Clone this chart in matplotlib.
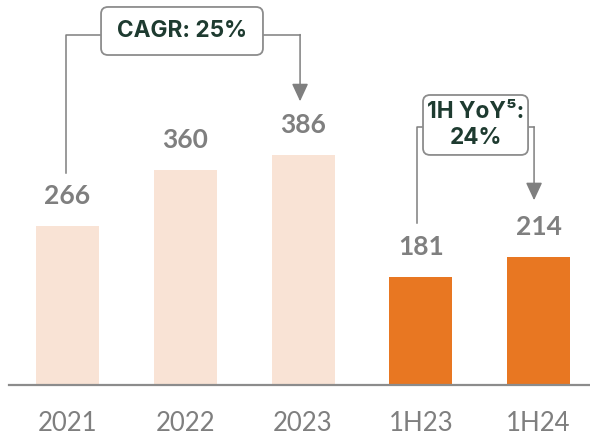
import numpy as np
import matplotlib
matplotlib.use('Agg')
import matplotlib.pyplot as plt
from matplotlib.patches import FancyBboxPatch

# Datos
categorias = ['2021', '2022', '2023', '1H23', '1H24']
valores = [266, 360, 386, 181, 214]
colores = ['#F9E3D5', '#F9E3D5', '#F9E3D5', '#E87722', '#E87722']
texto_cagr = 'CAGR: 25%'
texto_yoy = '1H YoY\u2075:\n24%'

gris = '#7F7F7F'
verde = '#1E3B30'

fig = plt.figure(figsize=(5.9, 4.36), dpi=100)
ax = fig.add_axes([0, 0, 1, 1])
x = np.arange(len(categorias))

ax.bar(x, valores, width=0.535, color=colores, zorder=2)
ax.set_xlim(-0.573, 4.437)
ax.set_ylim(-85.6, 646)
ax.axis('off')

# eje horizontal
ax.axhline(0, xmin=9/590, xmax=1, color='#8C8C8C', lw=1.6, zorder=3)

# etiquetas de categorias
for xi, cat in zip(x, categorias):
    ax.annotate(cat, (xi, 0), xytext=(0, -27.5), textcoords='offset points',
                ha='center', va='center', fontsize=18.5, color=gris, family='Lato')

# etiquetas de valores
for xi, v in zip(x, valores):
    ax.annotate(str(v), (xi, v), xytext=(0, 21.6), textcoords='offset points',
                ha='center', va='center', fontsize=19, color=gris,
                family='Lato', fontweight='bold')

lw_lin = 1.1

# CAGR 2021 -> 2023
y_cagr = 588
ax.plot([-0.013, -0.013, 0.285], [valores[0] + 90, y_cagr, y_cagr], color=gris, lw=lw_lin)
ax.plot([1.660, 1.975], [y_cagr, y_cagr], color=gris, lw=lw_lin)
ax.annotate('', xy=(1.975, valores[2] + 90), xytext=(1.975, y_cagr),
            arrowprops=dict(arrowstyle='-|>,head_length=0.54,head_width=0.25',
                            mutation_scale=20, color=gris, lw=lw_lin,
                            shrinkA=0, shrinkB=0))
caja1 = FancyBboxPatch((0.285, 553.7), 1.660 - 0.285, 634.3 - 553.7,
                       boxstyle='round,pad=0,rounding_size=0.06',
                       mutation_aspect=190, facecolor='white',
                       edgecolor='#8C8C8C', lw=1.3, zorder=4)
ax.add_patch(caja1)
ax.text((0.285 + 1.660) / 2, (553.7 + 634.3) / 2, texto_cagr, ha='center', va='center',
        fontsize=16.3, color=verde, fontweight='bold', family=['Inter', 'DejaVu Sans'],
        zorder=5)

# 1H YoY 1H23 -> 1H24
y_yoy = 433
ax.plot([2.968, 2.968, 3.019], [valores[3] + 90, y_yoy, y_yoy], color=gris, lw=lw_lin)
ax.plot([3.911, 3.962], [y_yoy, y_yoy], color=gris, lw=lw_lin)
ax.annotate('', xy=(3.962, valores[4] + 96), xytext=(3.962, y_yoy),
            arrowprops=dict(arrowstyle='-|>,head_length=0.54,head_width=0.25',
                            mutation_scale=20, color=gris, lw=lw_lin,
                            shrinkA=0, shrinkB=0))
caja2 = FancyBboxPatch((3.019, 386), 3.911 - 3.019, 486.6 - 386,
                       boxstyle='round,pad=0,rounding_size=0.06',
                       mutation_aspect=190, facecolor='white',
                       edgecolor='#8C8C8C', lw=1.3, zorder=4)
ax.add_patch(caja2)
ax.text((3.019 + 3.911) / 2, (386 + 486.6) / 2, texto_yoy, ha='center', va='center',
        fontsize=16.3, color=verde, fontweight='bold', family=['Inter', 'DejaVu Sans'],
        linespacing=1.2, zorder=5)

fig.savefig('out.png', dpi=100)
